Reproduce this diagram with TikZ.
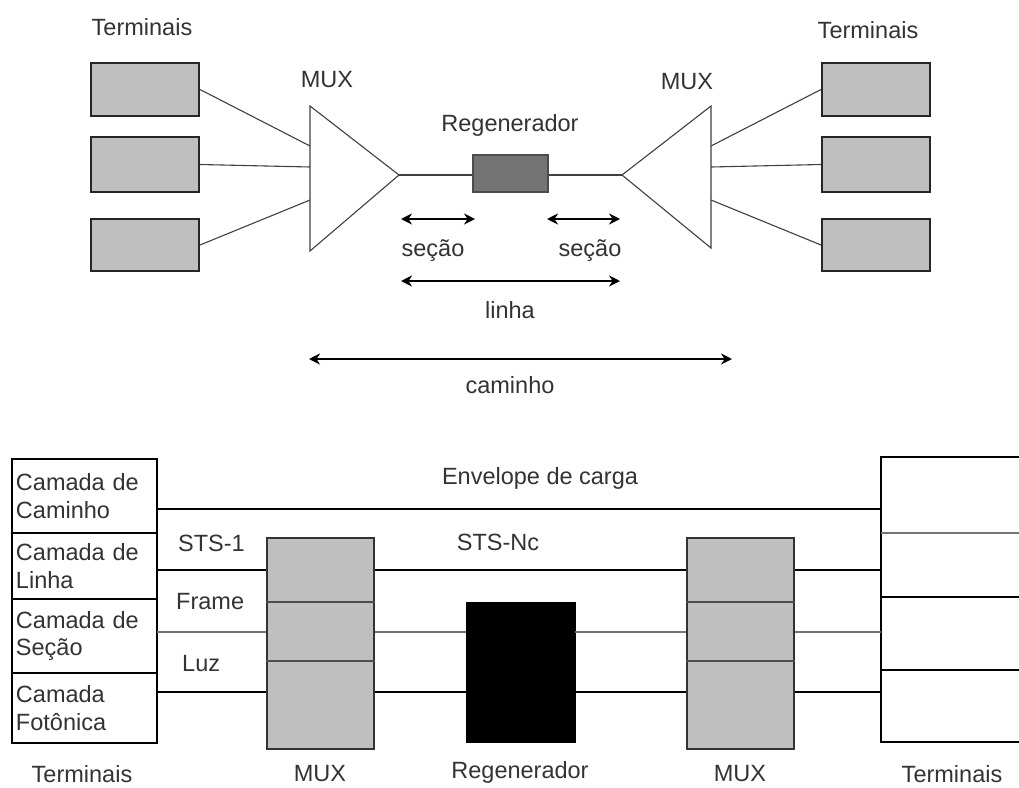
\documentclass[tikz,border=0pt]{standalone}
\usepackage{fontspec}
\setmainfont{Liberation Sans}
\usetikzlibrary{arrows.meta}
\begin{document}
\begin{tikzpicture}[x=1pt,y=-1pt,
  lbl/.style={font=\fontsize{23.5}{27}\selectfont, text=black!80, inner sep=0pt},
  tbox/.style={draw=black!85, line width=2pt, fill=gray!50, inner sep=0pt, minimum width=108pt},
  regtop/.style={draw=black!70, line width=1.5pt, fill=black!55, inner sep=0pt},
  wire/.style={draw=black!75, line width=1.1pt},
  dbl/.style={line width=2.4pt, {Stealth[length=11pt,width=11pt]}-{Stealth[length=11pt,width=11pt]}},
  layer/.style={draw=black, line width=2pt, inner sep=0pt, minimum width=145pt, text width=137pt, align=left,
                font=\fontsize{23.5}{27.5}\selectfont, text=black!80},
  muxb/.style={draw=black!80, line width=2pt, fill=gray!50, inner sep=0pt, minimum width=107pt, minimum height=211pt},
  hline/.style={draw=black, line width=2pt},
  thin/.style={draw=black!55, line width=1.5pt}
]
\useasboundingbox (0,0) rectangle (1019,787);
\fill[white] (0,0) rectangle (1019,787);

% ---------------- top part ----------------
\node[lbl] (tlT) at (142,27) {Terminais};
\node[lbl] (trT) at (868,30) {Terminais};

\node[tbox, minimum height=53pt] (tl1) at (145,89.5) {};
\node[tbox, minimum height=55pt] (tl2) at (145,164.5) {};
\node[tbox, minimum height=52pt] (tl3) at (145,245) {};
\node[tbox, minimum height=53pt] (tr1) at (876,89.5) {};
\node[tbox, minimum height=55pt] (tr2) at (876,164.5) {};
\node[tbox, minimum height=52pt] (tr3) at (876,245) {};

% left MUX triangle
\coordinate (mlt) at (310,106);
\coordinate (mlb) at (310,251);
\coordinate (mla) at (399,175);
\coordinate (mlA) at (310,146);
\coordinate (mlB) at (310,167);
\coordinate (mlC) at (310,200);
\draw[wire] (mlt) -- (mla) -- (mlb) -- cycle;
\node[lbl] (mlT) at (327,80) {MUX};

% right MUX triangle
\coordinate (mrt) at (711,106);
\coordinate (mrb) at (711,248);
\coordinate (mra) at (622,175);
\coordinate (mrA) at (711,146);
\coordinate (mrB) at (711,167);
\coordinate (mrC) at (711,200);
\draw[wire] (mrt) -- (mra) -- (mrb) -- cycle;
\node[lbl] (mrT) at (687,82) {MUX};

% regenerator
\node[regtop, minimum width=75pt, minimum height=37pt] (rg) at (510.5,173.5) {};
\node[lbl] (rgT) at (510,125) {Regenerador};

% connections
\draw[wire] (tl1.east) -- (mlA);
\draw[wire] (tl2.east) -- (mlB);
\draw[wire] (tl3.east) -- (mlC);
\draw[wire] (mrA) -- (tr1.west);
\draw[wire] (mrB) -- (tr2.west);
\draw[wire] (mrC) -- (tr3.west);
\draw[wire] (mla) -- (rg.west |- mla);
\draw[wire] (rg.east |- mra) -- (mra);

% span arrows
\coordinate (s1a) at (401,219);
\coordinate (s1b) at (475,219);
\coordinate (s2a) at (547,219);
\coordinate (s2b) at (620,219);
\coordinate (la) at (401,281);
\coordinate (lb) at (620,281);
\coordinate (ca) at (309,359);
\coordinate (cb) at (732,359);
\draw[dbl] (s1a) -- (s1b);
\draw[dbl] (s2a) -- (s2b);
\draw[dbl] (la) -- (lb);
\draw[dbl] (ca) -- (cb);
\node[lbl] (s1T) at (433,251) {seção};
\node[lbl] (s2T) at (590,251) {seção};
\node[lbl] (lT) at (510,310) {linha};
\node[lbl] (cT) at (510,385) {caminho};

% ---------------- bottom part ----------------
\node[layer, minimum height=74pt] (L1) at (84.5,496) {Camada de\\Caminho};
\node[layer, minimum height=66pt] (L2) at (84.5,566) {Camada de\\Linha};
\node[layer, minimum height=74pt] (L3) at (84.5,636) {Camada de\\Seção};
\node[layer, minimum height=70pt] (L4) at (84.5,708) {Camada\\Fotônica};

% right terminal stack (cut by the page edge)
\coordinate (RtL) at (881,457);
\coordinate (RbL) at (881,742);
\draw[hline] (1019,457) -- (RtL) -- (RbL) -- (1019,742);
\draw[thin] (881,533) -- (1019,533);
\draw[hline] (881,597) -- (1019,597);
\draw[hline] (881,670) -- (1019,670);

% MUX boxes
\node[muxb] (M1) at (320.5,643.5) {};
\node[muxb] (M2) at (740.5,643.5) {};
\foreach \m in {M1,M2}{
  \draw[draw=black!70, line width=1.5pt] (\m.west |- 0,602) -- (\m.east |- 0,602);
  \draw[draw=black!70, line width=1.5pt] (\m.west |- 0,661) -- (\m.east |- 0,661);
}

% regenerator (black)
\node[draw=black, fill=black, inner sep=0pt, minimum width=109pt, minimum height=140pt] (G) at (520.5,672) {};

% horizontal layer lines
\coordinate (pL) at (157,509);
\coordinate (pR) at (881,509);
\draw[hline] (pL) -- (pR);

\coordinate (lL) at (157,570);
\coordinate (lR) at (881,570);
\draw[hline] (lL) -- (M1.west |- lL);
\draw[hline] (M1.east |- lL) -- (M2.west |- lL);
\draw[hline] (M2.east |- lR) -- (lR);

\coordinate (fL) at (157,632);
\coordinate (fR) at (881,632);
\draw[thin] (fL) -- (M1.west |- fL);
\draw[thin] (M1.east |- fL) -- (G.west |- fL);
\draw[thin] (G.east |- fL) -- (M2.west |- fL);
\draw[thin] (M2.east |- fR) -- (fR);

\coordinate (zL) at (157,692);
\coordinate (zR) at (881,692);
\draw[hline] (zL) -- (M1.west |- zL);
\draw[hline] (M1.east |- zL) -- (G.west |- zL);
\draw[hline] (G.east |- zL) -- (M2.west |- zL);
\draw[hline] (M2.east |- zR) -- (zR);

% labels
\node[lbl] (envT) at (540,478) {Envelope de carga};
\node[lbl] (stsnT) at (498,542) {STS-Nc};
\node[lbl, anchor=west] (sts1T) at (178,543) {STS-1};
\node[lbl, anchor=west] (frT) at (176,602) {Frame};
\node[lbl, anchor=west] (luzT) at (182,664) {Luz};

\node[lbl] (btL) at (82,774) {Terminais};
\node[lbl] (bmL) at (320,774) {MUX};
\node[lbl] (bgL) at (520,772) {Regenerador};
\node[lbl] (bmR) at (740,774) {MUX};
\node[lbl] (btR) at (952,774) {Terminais};
\end{tikzpicture}
\end{document}
